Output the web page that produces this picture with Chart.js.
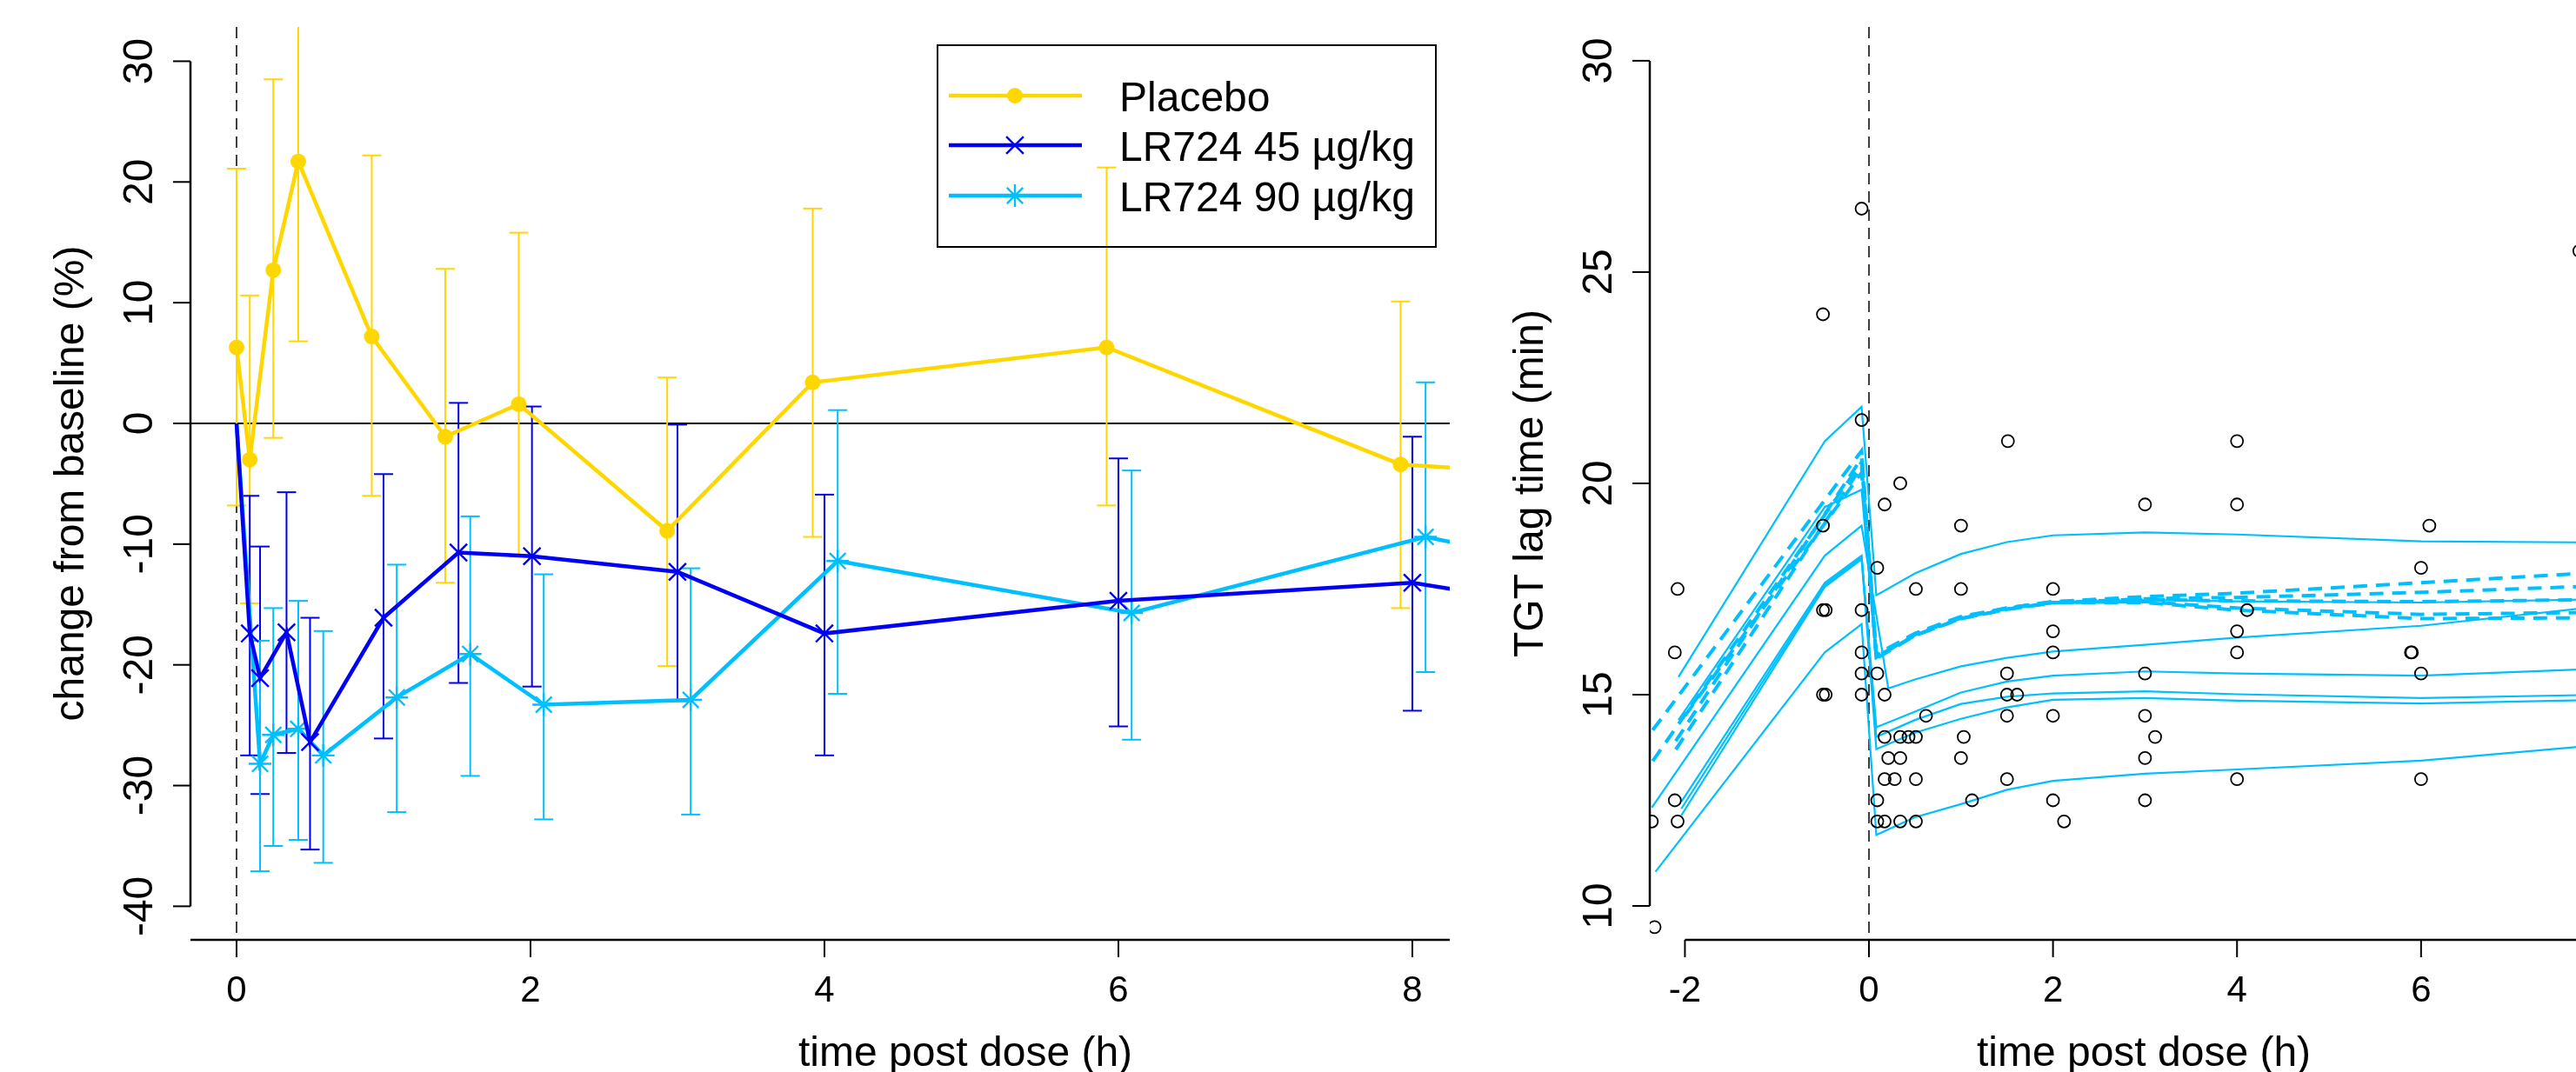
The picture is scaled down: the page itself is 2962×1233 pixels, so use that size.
<!DOCTYPE html>
<html>
<head>
<meta charset="utf-8">
<script src="https://cdn.jsdelivr.net/npm/chart.js@4.4.1/dist/chart.umd.min.js"></script>
<style>
  html, body { margin: 0; padding: 0; background: #fff; overflow: hidden; width: 2962px; height: 1233px; }
  canvas { position: absolute; top: 0; }
  #left { left: 0; }
  #right { left: 1667px; }
</style>
</head>
<body>
<canvas id="left" width="2100" height="1233"></canvas>
<canvas id="right" width="1400" height="1233"></canvas>
<script>
// ---------- left panel: mean change from baseline with error bars ----------
const placeboTime = [0, 0.09, 0.25, 0.42, 0.92, 1.42, 1.92, 2.93, 3.92, 5.92, 7.92, 12]
const placeboMean = [6.3, -3.0, 12.7, 21.7, 7.2, -1.1, 1.6, -8.9, 3.4, 6.3, -3.4, -6.5]
const placeboLow  = [-6.8, -14.9, -1.2, 6.8, -6.0, -13.2, -11.0, -20.1, -9.4, -6.8, -15.3, null]
const placeboHigh = [21.1, 10.6, 28.5, 36.6, 22.2, 12.8, 15.8, 3.8, 17.8, 21.2, 10.1, null]

const dose45Time = [0, 0.09, 0.16, 0.34, 0.5, 1.0, 1.51, 2.01, 3.0, 4.0, 6.0, 8.0, 12]
const dose45Mean = [0, -17.4, -21.1, -17.3, -26.4, -16.1, -10.7, -11.0, -12.3, -17.4, -14.7, -13.2, -21]
const dose45Low  = [null, -27.5, -30.7, -27.3, -35.3, -26.1, -21.5, -21.8, -23.0, -27.5, -25.1, -23.8, null]
const dose45High = [null, -6.0, -10.2, -5.7, -16.1, -4.2, 1.7, 1.4, -0.1, -5.9, -2.9, -1.1, null]

const dose90Time = [0, 0.16, 0.25, 0.42, 0.59, 1.09, 1.59, 2.09, 3.09, 4.09, 6.09, 8.09, 12]
const dose90Mean = [0, -28.2, -25.8, -25.3, -27.5, -22.7, -19.1, -23.3, -22.9, -11.4, -15.7, -9.4, -19]
const dose90Low  = [null, -37.1, -35.0, -34.5, -36.4, -32.2, -29.2, -32.8, -32.4, -22.4, -26.2, -20.6, null]
const dose90High = [null, -18.0, -15.3, -14.7, -17.2, -11.7, -7.7, -12.5, -12.0, 1.1, -3.9, 3.4, null]

const leftYTicks = [-40, -30, -20, -10, 0, 10, 20, 30]
const leftXTicks = [0, 2, 4, 6, 8, 10]

// ---------- right panel: observed lag times and model curves ----------
const obsTime = [-0.08, -0.5, -0.08, 1.51, 4.0, 0.34, 0.17, 3.0, 4.0, -0.5, 1.0, 6.09, 7.72,
  0.09, 6.0, -2.08, 0.51, 1.0, 2.0, -0.5, -0.47, -0.08, 4.11, 2.0, 4.0,
  -2.11, -0.08, 2.0, 4.0, 5.89, 5.9, -0.08, 0.09, 1.5, 3.0, 6.0,
  -0.5, -0.47, -0.08, 0.17, 1.5, 1.61, 0.62, 1.5, 2.0, 3.0,
  0.17, 0.34, 0.43, 0.51, 1.03, 3.11, 0.21, 0.34, 1.0, 3.0,
  0.17, 0.28, 0.51, 1.5, 4.0, 6.0, -2.11, 0.09, 1.12, 2.0, 3.0,
  -2.36, -2.08, 0.09, 0.17, 0.34, 0.51, 2.12, -2.33]
const obsLag = [26.5, 24.0, 21.5, 21.0, 21.0, 20.0, 19.5, 19.5, 19.5, 19.0, 19.0, 19.0, 25.5,
  18.0, 18.0, 17.5, 17.5, 17.5, 17.5, 17.0, 17.0, 17.0, 17.0, 16.5, 16.5,
  16.0, 16.0, 16.0, 16.0, 16.0, 16.0, 15.5, 15.5, 15.5, 15.5, 15.5,
  15.0, 15.0, 15.0, 15.0, 15.0, 15.0, 14.5, 14.5, 14.5, 14.5,
  14.0, 14.0, 14.0, 14.0, 14.0, 14.0, 13.5, 13.5, 13.5, 13.5,
  13.0, 13.0, 13.0, 13.0, 13.0, 13.0, 12.5, 12.5, 12.5, 12.5, 12.5,
  12.0, 12.0, 12.0, 12.0, 12.0, 12.0, 12.0, 9.5]

// model curves: first value belongs to the curve's own start time, the rest follow fitGrid
const fitGrid = [-0.48, -0.08, 0.08, 0.21, 0.5, 1, 1.5, 2, 3, 4, 6, 8, 10]
const solidStart = [-2.07, -2.07, -2.36, -2.04, -2.04, -2.04, -2.32]
const solidFits = [
  [15.42, 21.0, 21.81, 17.35, null, 17.87, 18.33, 18.61, 18.77, 18.84, 18.79, 18.63, 18.6, 18.6],
  [14.4, 19.44, 19.85, 15.87, null, 16.42, 16.8, 17.04, 17.18, 17.24, 17.21, 17.18, 17.26, 17.3],
  [12.33, 18.29, 19.0, null, 15.15, 15.36, 15.67, 15.87, 16.02, 16.18, 16.35, 16.63, 17.1, 17.5],
  [12.46, 17.65, 18.29, 14.23, null, 14.6, 15.05, 15.31, 15.45, 15.55, 15.5, 15.45, 15.62, 15.7],
  [12.14, 17.55, 18.2, 14.0, null, 14.4, 14.78, 14.95, 15.03, 15.08, 15.01, 14.92, 15.0, 15.05],
  [12.3, 17.6, 18.25, 13.71, null, 14.1, 14.43, 14.7, 14.88, 14.92, 14.86, 14.79, 14.88, 14.9],
  [10.81, 16.0, 16.67, 11.68, null, 12.1, 12.41, 12.75, 12.96, 13.13, 13.23, 13.44, 13.82, 14.1]
]
const dashedStart = [-2.35, -2.35, -2.1, -2.1, -2.0]
const dashedFits = [
  [14.16, null, 20.77, 15.95, null, 16.45, 16.85, 17.05, 17.2, 17.32, 17.4, 17.65, 17.9, 18.1],
  [13.43, null, 20.5, 15.9, null, 16.4, 16.8, 17.02, 17.17, 17.27, 17.3, 17.42, 17.58, 17.7],
  [13.9, null, 20.6, 15.85, null, 16.4, 16.8, 17.02, 17.18, 17.2, 17.05, 16.9, 16.95, 17.0],
  [13.7, null, 20.4, 15.88, null, 16.42, 16.82, 17.04, 17.18, 17.18, 17.0, 16.8, 16.82, 16.85],
  [14.5, null, 20.25, 15.92, null, 16.44, 16.82, 17.05, 17.2, 17.25, 17.22, 17.2, 17.25, 17.3]
]

const rightYTicks = [10, 15, 20, 25, 30]
const rightXTicks = [-2, 0, 2, 4, 6, 8]

const GOLD = '#FFD700', BLUE = '#0000F5', SKY = '#00BFFF'
const FONT = "'Liberation Sans', Arial, sans-serif"

const xy = (t, v) => t.map((x, i) => ({ x: x, y: v[i] }))

function seg(ctx, x1, y1, x2, y2) {
  ctx.beginPath(); ctx.moveTo(x1, y1); ctx.lineTo(x2, y2); ctx.stroke()
}

function vText(ctx, text, x, y, size) {
  ctx.save()
  ctx.translate(x, y)
  ctx.rotate(-Math.PI / 2)
  ctx.font = size + 'px ' + FONT
  ctx.textAlign = 'center'
  ctx.textBaseline = 'alphabetic'
  ctx.fillText(text, 0, 0)
  ctx.restore()
}

function doseLine(chart) {
  const { ctx, chartArea: a, scales: { x } } = chart
  const px = x.getPixelForValue(0)
  ctx.save()
  ctx.strokeStyle = '#111'
  ctx.lineWidth = 1.6
  ctx.setLineDash([13, 8])
  seg(ctx, px, a.top, px, a.bottom)
  ctx.restore()
}

// R style axes: y labels turned, x axis line given by its own ends
function drawAxes(chart, o) {
  const { ctx, chartArea: a, scales: { x, y } } = chart
  ctx.save()
  ctx.strokeStyle = '#000'
  ctx.fillStyle = '#000'
  ctx.lineWidth = 2.5
  const yTop = y.getPixelForValue(o.yTicks[o.yTicks.length - 1])
  const yBot = y.getPixelForValue(o.yTicks[0])
  seg(ctx, a.left, yTop, a.left, yBot)
  ctx.lineWidth = 2
  o.yTicks.forEach(v => {
    const py = y.getPixelForValue(v)
    seg(ctx, a.left - 20, py, a.left, py)
    vText(ctx, String(v), a.left - 44, py, 48)
  })
  vText(ctx, o.yTitle, a.left - 123, (a.top + a.bottom) / 2, 48)

  ctx.lineWidth = 2.5
  seg(ctx, o.xFrom, a.bottom, o.xTo, a.bottom)
  ctx.lineWidth = 2
  ctx.font = '42px ' + FONT
  ctx.textAlign = 'center'
  ctx.textBaseline = 'alphabetic'
  o.xTicks.forEach(v => {
    const px = x.getPixelForValue(v)
    seg(ctx, px, a.bottom, px, a.bottom + 20)
    ctx.fillText(String(v), px, a.bottom + 71)
  })
  ctx.font = '48px ' + FONT
  ctx.fillText('time post dose (h)', (a.left + a.right) / 2, 1226)
  ctx.restore()
}

function errorBars(chart, ds, lows, highs, color) {
  const { ctx, scales: { x, y } } = chart
  ctx.strokeStyle = color
  ctx.lineWidth = 2
  ds.forEach((p, i) => {
    if (lows[i] == null) return
    const px = x.getPixelForValue(p.x)
    const lo = y.getPixelForValue(lows[i]), hi = y.getPixelForValue(highs[i])
    seg(ctx, px, lo, px, hi)
    seg(ctx, px - 11, lo, px + 11, lo)
    seg(ctx, px - 11, hi, px + 11, hi)
  })
}

const leftDecor = {
  id: 'leftDecor',
  beforeDatasetsDraw(chart) {
    const { ctx, chartArea: a, scales: { y } } = chart
    ctx.save()
    ctx.strokeStyle = '#000'
    ctx.lineWidth = 2
    const y0 = y.getPixelForValue(0)
    seg(ctx, a.left, y0, a.right, y0)
    ctx.restore()
    doseLine(chart)
    ctx.save()
    ctx.beginPath()
    ctx.rect(a.left, a.top, a.width, a.height)
    ctx.clip()
    const d = chart.data.datasets
    errorBars(chart, d[0].data, placeboLow, placeboHigh, GOLD)
    errorBars(chart, d[1].data, dose45Low, dose45High, BLUE)
    errorBars(chart, d[2].data, dose90Low, dose90High, SKY)
    ctx.restore()
  },
  afterDraw(chart) {
    const a = chart.chartArea
    drawAxes(chart, {
      yTicks: leftYTicks, xTicks: leftXTicks, yTitle: 'change from baseline (%)',
      xFrom: a.left, xTo: a.right
    })
    // legend box, no fill (bars show through as in the original)
    const ctx = chart.ctx
    ctx.save()
    ctx.strokeStyle = '#000'
    ctx.lineWidth = 2
    ctx.strokeRect(1078, 52, 573, 232)
    const rows = [110, 167, 225]
    chart.data.datasets.forEach((ds, i) => {
      const ry = rows[i]
      ctx.strokeStyle = ds.borderColor
      ctx.fillStyle = ds.borderColor
      ctx.lineWidth = 4.5
      seg(ctx, 1091, ry, 1244, ry)
      ctx.lineWidth = ds.pointBorderWidth || 1
      Chart.helpers.drawPoint(ctx, {
        pointStyle: ds.pointStyle, radius: ds.legendRadius, rotation: 0,
        borderWidth: ds.pointBorderWidth
      }, 1167, ry)
      ctx.fillStyle = '#000'
      ctx.font = '48px ' + FONT
      ctx.textAlign = 'left'
      ctx.textBaseline = 'alphabetic'
      ctx.fillText(ds.label, 1287, ry + 18)
    })
    ctx.restore()
  }
}

const rightDecor = {
  id: 'rightDecor',
  beforeDraw(chart) {
    const ctx = chart.ctx
    ctx.save()
    ctx.fillStyle = '#fff'
    ctx.fillRect(0, 0, chart.width, chart.height)
    ctx.restore()
  },
  beforeDatasetsDraw(chart) {
    doseLine(chart)
  },
  afterDraw(chart) {
    const x = chart.scales.x
    drawAxes(chart, {
      yTicks: rightYTicks, xTicks: rightXTicks, yTitle: 'TGT lag time (min)',
      xFrom: x.getPixelForValue(rightXTicks[0]),
      xTo: x.getPixelForValue(rightXTicks[rightXTicks.length - 1])
    })
  }
}

const baseOptions = (pad, xr, yr) => ({
  responsive: false,
  animation: false,
  devicePixelRatio: 1,
  layout: { padding: pad },
  scales: {
    x: { type: 'linear', min: xr[0], max: xr[1], display: false },
    y: { type: 'linear', min: yr[0], max: yr[1], display: false }
  },
  plugins: { legend: { display: false }, tooltip: { enabled: false } },
  elements: { line: { tension: 0 } }
})

new Chart(document.getElementById('left'), {
  type: 'line',
  data: {
    datasets: [
      {
        label: 'Placebo', data: xy(placeboTime, placeboMean),
        borderColor: GOLD, backgroundColor: GOLD, borderWidth: 4.5,
        pointStyle: 'circle', pointRadius: 9, pointBorderWidth: 0, legendRadius: 9
      },
      {
        label: 'LR724 45 µg/kg', data: xy(dose45Time, dose45Mean),
        borderColor: BLUE, backgroundColor: BLUE, borderWidth: 4.5,
        pointStyle: 'crossRot', pointRadius: dose45Time.map((t, i) => i === 0 ? 0 : 14),
        pointBorderWidth: 2.4, legendRadius: 14
      },
      {
        label: 'LR724 90 µg/kg', data: xy(dose90Time, dose90Mean),
        borderColor: SKY, backgroundColor: SKY, borderWidth: 4.5,
        pointStyle: 'star', pointRadius: dose90Time.map((t, i) => i === 0 ? 0 : 13),
        pointBorderWidth: 2.4, legendRadius: 13
      }
    ]
  },
  options: baseOptions({ left: 219, top: 31, right: 99, bottom: 152 }, [-0.3136, 10.231], [-42.78, 32.84]),
  plugins: [leftDecor]
})

const rightSets = [{
  label: 'observed', data: xy(obsTime, obsLag), showLine: false,
  pointStyle: 'circle', pointRadius: 7, pointBorderWidth: 1.8,
  borderColor: '#000', backgroundColor: 'rgba(0,0,0,0)'
}]
solidFits.forEach((vals, i) => rightSets.push({
  label: 'fit ' + (i + 1), data: xy([solidStart[i]].concat(fitGrid), vals),
  borderColor: SKY, borderWidth: 2.2, pointRadius: 0, spanGaps: true
}))
dashedFits.forEach((vals, i) => rightSets.push({
  label: 'typical ' + (i + 1), data: xy([dashedStart[i]].concat(fitGrid), vals),
  borderColor: SKY, borderWidth: 4, borderDash: [16, 10], pointRadius: 0, spanGaps: true
}))

new Chart(document.getElementById('right'), {
  type: 'line',
  data: { datasets: rightSets },
  options: baseOptions({ left: 230, top: 31, right: 34, bottom: 152 }, [-2.382, 8.355], [9.198, 30.80]),
  plugins: [rightDecor]
})
</script>
</body>
</html>
